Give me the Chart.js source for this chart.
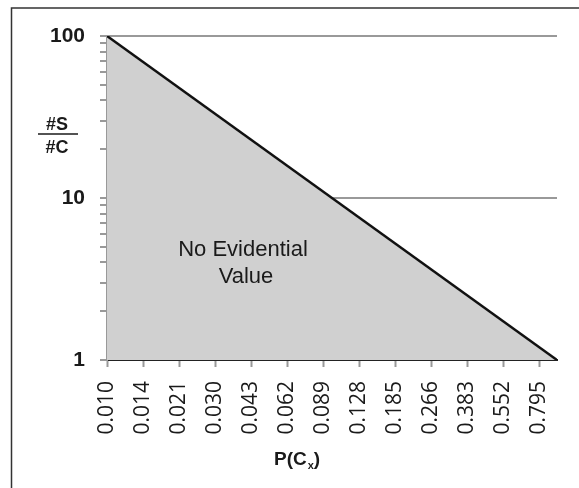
<!DOCTYPE html>
<html>
<head>
<meta charset="utf-8">
<script src="https://cdn.jsdelivr.net/npm/chart.js@4/dist/chart.umd.min.js"></script>
<style>
  html, body { margin: 0; padding: 0; background: #fff; }
  #wrap { width: 579px; height: 488px; }
</style>
</head>
<body>
<div id="wrap"><canvas id="chart" width="579" height="488"></canvas></div>
<script>
// x axis categories (P(Cx)), log-spaced
const categories = ["0.010", "0.014", "0.021", "0.030", "0.043", "0.062", "0.089",
                    "0.128", "0.185", "0.266", "0.383", "0.552", "0.795"];
// boundary line #S/#C: from 100 at the first category down to 1 at the right edge
const lineX = [0, 12.5];
const lineY = [100, 1];
// y ticks (log axis) and which ones get labels
const yTicks = [1, 2, 3, 4, 5, 6, 7, 8, 9, 10, 20, 30, 40, 50, 60, 70, 80, 90, 100];
const yLabelled = [1, 10, 100];
const areaLabel = ["No Evidential", "Value"];

const textColor = "#1a1a1a";

const overlay = {
    id: "overlay",
    afterDraw(chart) {
        const ctx = chart.ctx;
        ctx.save();
        // outer frame
        ctx.strokeStyle = "#333";
        ctx.lineWidth = 1.5;
        ctx.beginPath();
        ctx.moveTo(11.5, 488);
        ctx.lineTo(11.5, 8);
        ctx.lineTo(579, 8);
        ctx.stroke();

        ctx.fillStyle = textColor;
        // y title as a fraction
        ctx.font = "bold 18px 'Liberation Sans', Arial, sans-serif";
        ctx.textAlign = "center";
        ctx.textBaseline = "alphabetic";
        ctx.fillText("#S", 57, 130);
        ctx.fillText("#C", 57, 153);
        ctx.strokeStyle = textColor;
        ctx.lineWidth = 1.5;
        ctx.beginPath();
        ctx.moveTo(38, 134);
        ctx.lineTo(78, 134);
        ctx.stroke();

        // x title P(Cx)
        ctx.textAlign = "left";
        ctx.font = "bold 19px 'Liberation Sans', Arial, sans-serif";
        let x = 274;
        ctx.fillText("P(C", x, 465);
        x += ctx.measureText("P(C").width;
        ctx.font = "bold 11px 'Liberation Sans', Arial, sans-serif";
        ctx.fillText("x", x + 1, 469);
        x += ctx.measureText("x").width + 1;
        ctx.font = "bold 19px 'Liberation Sans', Arial, sans-serif";
        ctx.fillText(")", x, 465);

        // area label
        ctx.font = "22px 'Liberation Sans', Arial, sans-serif";
        ctx.textAlign = "center";
        ctx.fillText(areaLabel[0], 243, 256);
        ctx.fillText(areaLabel[1], 246, 283);
        ctx.restore();
    }
};

new Chart(document.getElementById("chart"), {
    type: "line",
    data: {
        datasets: [{
            data: lineX.map((v, i) => ({ x: v, y: lineY[i] })),
            borderColor: "#111",
            borderWidth: 2.5,
            backgroundColor: "#d0d0d0",
            fill: "start",
            pointRadius: 0,
            tension: 0
        }]
    },
    options: {
        responsive: false,
        animation: false,
        layout: { padding: { left: 0, right: 20, top: 36, bottom: 0 } },
        plugins: {
            legend: { display: false },
            tooltip: { enabled: false }
        },
        scales: {
            x: {
                type: "linear",
                min: 0,
                max: 12.5,
                afterBuildTicks: axis => {
                    axis.ticks = categories.map((c, i) => ({ value: i }));
                },
                afterFit: axis => { axis.height = 128; },
                ticks: {
                    callback: v => categories[v],
                    autoSkip: false,
                    minRotation: 90,
                    maxRotation: 90,
                    padding: 14,
                    color: textColor,
                    font: { family: "'Open Sans', sans-serif", size: 21 }
                },
                grid: {
                    drawOnChartArea: false,
                    tickLength: 7,
                    tickColor: "#999",
                    tickWidth: 2
                },
                border: { color: "#222", width: 2 }
            },
            y: {
                type: "logarithmic",
                min: 1,
                max: 100,
                afterBuildTicks: axis => {
                    axis.ticks = yTicks.map(v => ({ value: v }));
                },
                afterFit: axis => { axis.width = 107; },
                ticks: {
                    callback: v => yLabelled.includes(v) ? String(v) : "",
                    autoSkip: false,
                    padding: 15,
                    color: textColor,
                    font: { family: "'Liberation Sans', Arial, sans-serif", size: 21, weight: "bold" }
                },
                grid: {
                    color: c => (c.tick && (c.tick.value === 10 || c.tick.value === 100)) ? "#999" : "transparent",
                    lineWidth: 2,
                    tickLength: 7,
                    tickColor: "#999",
                    tickWidth: 2
                },
                border: { color: "#999", width: 2 }
            }
        }
    },
    plugins: [overlay]
});
</script>
</body>
</html>
